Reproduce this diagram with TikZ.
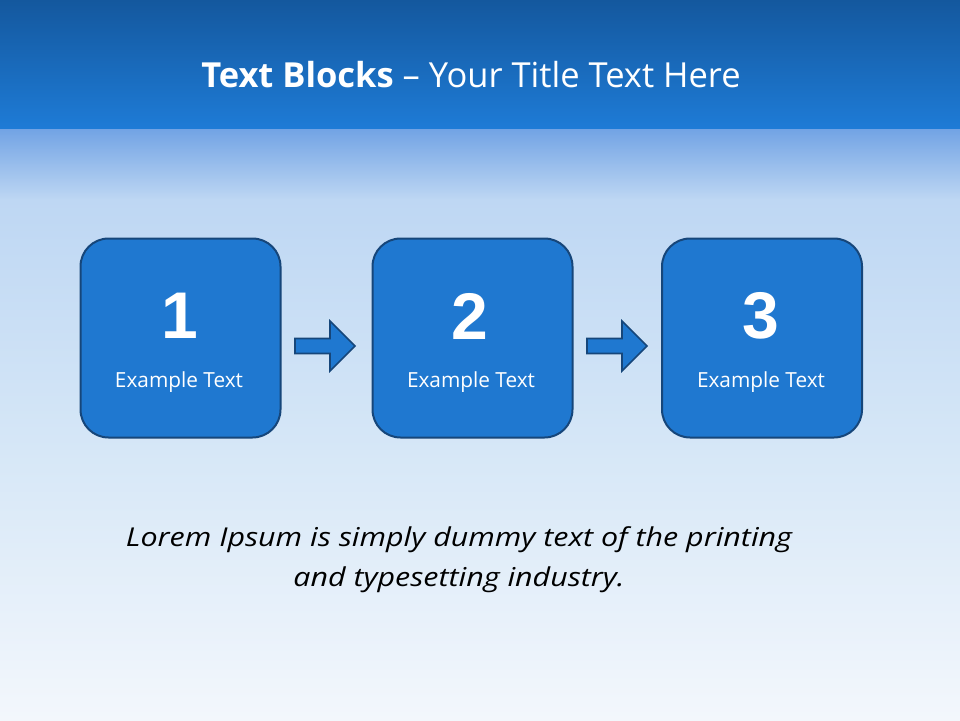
\documentclass[tikz,border=0pt]{standalone}
\usepackage{fontspec}
\setmainfont{Open Sans}
\newfontfamily\numfont{Liberation Sans}
\newfontfamily\lorfont[FakeStretch=1.17]{Open Sans}
\definecolor{bandtop}{RGB}{20,88,158}
\definecolor{bandbot}{RGB}{30,123,214}
\definecolor{bgA}{RGB}{112,162,228}
\definecolor{bgB}{RGB}{190,215,243}
\definecolor{bgC}{RGB}{214,231,247}
\definecolor{bgD}{RGB}{243,247,252}
\definecolor{boxfill}{RGB}{31,120,208}
\definecolor{boxline}{RGB}{22,70,122}
\tikzset{
  stepbox/.style={draw=boxline, line width=2pt, fill=boxfill, rounded corners=28pt,
    minimum width=200pt, minimum height=199pt, inner sep=0pt},
  numtext/.style={text=white, font=\numfont\bfseries\fontsize{66}{70}\selectfont, inner sep=0pt},
  labtext/.style={text=white, font=\fontsize{20.8}{26}\selectfont, inner sep=0pt},
  blockarrow/.style={draw=boxline, line width=1.6pt, fill=boxfill, line join=miter},
}
\begin{document}
\begin{tikzpicture}[x=1pt,y=-1pt]
\useasboundingbox (0,0) rectangle (960,720);
% background
\shade[top color=bgA, bottom color=bgB] (0,127) rectangle (960,200);
\shade[top color=bgB, bottom color=bgC] (0,199.5) rectangle (960,450);
\shade[top color=bgC, bottom color=bgD] (0,449.5) rectangle (960,720);
\shade[top color=bandtop, bottom color=bandbot] (0,0) rectangle (960,128);
% title
\node[text=white, inner sep=0pt, font=\fontsize{34.5}{40}\selectfont] (title) at (471,75)
  {\textbf{Text Blocks} -- Your Title Text Here};
% boxes
\node[stepbox] (b1) at (180.5,338) {};
\node[stepbox] (b2) at (472.5,338) {};
\node[stepbox] (b3) at (762,338) {};
\node[numtext] (n1) at (180,316) {1};
\node[numtext] (n2) at (470,316) {2};
\node[numtext] (n3) at (761,316) {3};
\node[labtext] (l1) at (179,382) {Example Text};
\node[labtext] (l2) at (471,382) {Example Text};
\node[labtext] (l3) at (761,382) {Example Text};
% arrows
\draw[blockarrow] (295,338.5) -- (330,338.5) -- (330,321) -- (355,346) -- (330,371) -- (330,353.5) -- (295,353.5) -- cycle;
\draw[blockarrow] (587,338.5) -- (622,338.5) -- (622,321) -- (647,346) -- (622,371) -- (622,353.5) -- (587,353.5) -- cycle;
% bottom text
\node[align=center, inner sep=0pt, font=\lorfont\itshape\fontsize{26}{40}\selectfont] (lorem) at (459,560)
  {Lorem Ipsum is simply dummy text of the printing\\and typesetting industry.};
\end{tikzpicture}
\end{document}
